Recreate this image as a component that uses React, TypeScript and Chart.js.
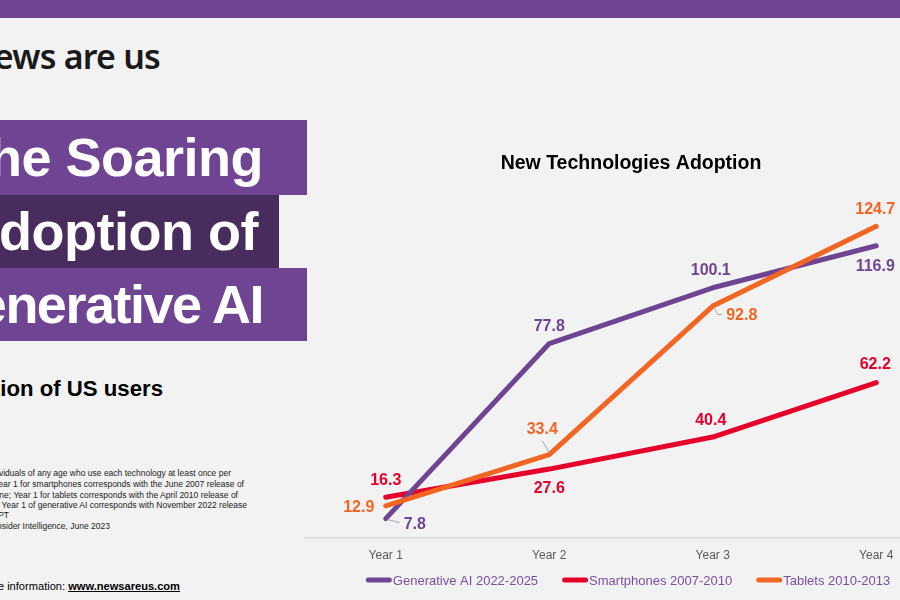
import React, { useEffect, useRef } from "react";
import { Chart, registerables } from "chart.js";

Chart.register(...registerables);

// ---------- data ----------
const categories = ["Year 1", "Year 2", "Year 3", "Year 4"];
const seriesNames = ["Generative AI 2022-2025", "Smartphones 2007-2010", "Tablets 2010-2013"];
const generativeAI = [7.8, 77.8, 100.1, 116.9];
const smartphones = [16.3, 27.6, 40.4, 62.2];
const tablets = [12.9, 33.4, 92.8, 124.7];
const yMin = 0;
const yMax = 140;
const chartTitle = "New Technologies Adoption";

// ---------- styles ----------
const PURPLE = "#6f4593";
const DARK_PURPLE = "#472c5d";
const RED = "#e4002b";
const ORANGE = "#f26522";
const LEGEND_TEXT = "#7a4fa0";
const FONT = '"Liberation Sans", Arial, Helvetica, sans-serif';

// label placement per series / point: [dx, dy, leader]
const labelPlacement: Array<Array<[number, number, string | null]>> = [
  [[29, 5, "left"], [0, -18, null], [-2, -18, null], [-1, 20, null]],
  [[0, -18, null], [0, 18.5, null], [-2, -17.5, null], [-1, -19, null]],
  [[-27, 1, null], [-7, -26, "below"], [29, 8.5, "elbow"], [-1, -18, null]],
];

const valueLabels = {
  id: "valueLabels",
  afterDatasetsDraw(chart: any) {
    const ctx = chart.ctx;
    ctx.save();
    ctx.font = `bold 16px ${FONT}`;
    ctx.textAlign = "center";
    ctx.textBaseline = "middle";
    chart.data.datasets.forEach((ds: any, di: number) => {
      const meta = chart.getDatasetMeta(di);
      meta.data.forEach((pt: any, i: number) => {
        const [dx, dy, leader] = labelPlacement[di][i];
        const lx = pt.x + dx;
        const ly = pt.y + dy;
        const text = Number(ds.data[i]).toFixed(1);
        const w = ctx.measureText(text).width;
        if (leader) {
          ctx.strokeStyle = "#a6a6a6";
          ctx.lineWidth = 1;
          ctx.beginPath();
          if (leader === "left") {
            ctx.moveTo(pt.x + 2, pt.y + 1);
            ctx.lineTo(lx - w / 2 - 4, ly - 1);
          } else if (leader === "below") {
            ctx.moveTo(lx, ly + 12);
            ctx.lineTo(pt.x, pt.y - 2);
          } else if (leader === "elbow") {
            ctx.moveTo(pt.x + 1, pt.y + 1);
            ctx.lineTo(pt.x + 5, ly);
            ctx.lineTo(lx - w / 2 - 4, ly);
          }
          ctx.stroke();
        }
        ctx.fillStyle = ds.borderColor;
        ctx.fillText(text, lx, ly + 1);
      });
    });
    ctx.restore();
  },
};

const lineLegend = {
  id: "lineLegend",
  afterDraw(chart: any) {
    const ctx = chart.ctx;
    ctx.save();
    ctx.font = `13px ${FONT}`;
    const marker = 26;
    const gapText = 1;
    const gapItem = 24;
    const items = chart.data.datasets.map((ds: any) => ({
      text: ds.label,
      color: ds.borderColor,
      w: marker + gapText + ctx.measureText(ds.label).width,
    }));
    const total = items.reduce((s: number, it: any) => s + it.w, 0) + gapItem * (items.length - 1);
    let x = (chart.width - total) / 2 - 3;
    const y = chart.height - 20;
    items.forEach((it: any) => {
      ctx.strokeStyle = it.color;
      ctx.lineWidth = 5;
      ctx.lineCap = "round";
      ctx.beginPath();
      ctx.moveTo(x + 2.5, y);
      ctx.lineTo(x + marker - 2.5, y);
      ctx.stroke();
      ctx.fillStyle = LEGEND_TEXT;
      ctx.textAlign = "left";
      ctx.textBaseline = "middle";
      ctx.fillText(it.text, x + marker + gapText, y + 1);
      x += it.w + gapItem;
    });
    ctx.restore();
  },
};

function AdoptionChart() {
  const ref = useRef<HTMLCanvasElement | null>(null);
  useEffect(() => {
    if (!ref.current) return;
    const colors = [PURPLE, RED, ORANGE];
    const values = [generativeAI, smartphones, tablets];
    const drawOrder = [1, 2, 0];
    const chart = new Chart(ref.current, {
      type: "line",
      data: {
        labels: categories,
        datasets: values.map((v, i) => ({
          label: seriesNames[i],
          data: v,
          borderColor: colors[i],
          backgroundColor: colors[i],
          borderWidth: 5,
          borderCapStyle: "round",
          borderJoinStyle: "round",
          pointRadius: 0,
          pointHoverRadius: 0,
          tension: 0,
          fill: false,
          order: drawOrder[i],
        })),
      },
      options: {
        responsive: false,
        animation: false,
        layout: { padding: { left: 0, right: 0, top: 0, bottom: 27.5 } },
        plugins: {
          legend: { display: false },
          tooltip: { enabled: false },
          title: {
            display: true,
            text: chartTitle,
            color: "#000000",
            font: { family: FONT, size: 19.5, weight: "bold" },
            padding: { top: 22.3, bottom: 12.3 },
          },
        },
        scales: {
          x: {
            offset: true,
            grid: { display: true, drawOnChartArea: false, drawTicks: false },
            border: { display: true, color: "#d9d9d9", width: 1.5 },
            ticks: { color: "#595959", font: { family: FONT, size: 12 }, padding: 10 },
          },
          y: { display: false, min: yMin, max: yMax },
        },
      },
      plugins: [valueLabels, lineLegend],
    } as any);
    return () => chart.destroy();
  }, []);
  return (
    <canvas
      ref={ref}
      width={654}
      height={470}
      style={{ position: "absolute", left: 304, top: 130, width: 654, height: 470 }}
    />
  );
}

const noteLines: Array<[string, number, number]> = [
  ["Note: Individuals of any age who use each technology at least once per", 231, 473],
  ["month; Year 1 for smartphones corresponds with the June 2007 release of", 244, 484],
  ["the iPhone; Year 1 for tablets corresponds with the April 2010 release of", 238, 495],
  ["the iPad; Year 1 of generative AI corresponds with November 2022 release", 247, 505.5],
  ["of ChatGPT", 9, 515.5],
  ["Source: Insider Intelligence, June 2023", 110, 526],
];

export default function App() {
  const titleText = (text: string, boxW: number, end: number, h: number, ls: number) => (
    <span
      style={{
        position: "absolute",
        right: boxW - end,
        top: 0,
        lineHeight: `${h}px`,
        fontSize: 54,
        fontWeight: 700,
        letterSpacing: ls,
        color: "#ffffff",
        whiteSpace: "nowrap",
        fontFamily: FONT,
      }}
    >
      {text}
    </span>
  );
  return (
    <div
      style={{
        position: "fixed",
        left: 0,
        top: 0,
        width: 900,
        height: 600,
        overflow: "hidden",
        background: "#f2f2f2",
        fontFamily: FONT,
      }}
    >
      <div style={{ position: "absolute", left: 0, top: 0, width: 900, height: 18, background: PURPLE }} />
      <div
        style={{
          position: "absolute",
          right: 900 - 160,
          top: 36,
          fontSize: 34,
          lineHeight: "40px",
          fontWeight: 600,
          letterSpacing: -0.8,
          color: "#1a1a1a",
          whiteSpace: "nowrap",
          fontFamily: '"Noto Sans", "DejaVu Sans", sans-serif',
        }}
      >
        news are us
      </div>
      <div style={{ position: "absolute", left: 0, top: 120, width: 307, height: 75, background: PURPLE, overflow: "hidden" }}>
        {titleText("The Soaring", 307, 263, 75, -0.5)}
      </div>
      <div style={{ position: "absolute", left: 0, top: 195, width: 279, height: 73, background: DARK_PURPLE, overflow: "hidden" }}>
        {titleText("Adoption of", 279, 258, 73, -0.5)}
      </div>
      <div style={{ position: "absolute", left: 0, top: 268, width: 307, height: 73, background: PURPLE, overflow: "hidden" }}>
        {titleText("Generative AI", 307, 263, 73, -1.5)}
      </div>
      <div
        style={{
          position: "absolute",
          right: 900 - 163,
          top: 376,
          fontSize: 22.2,
          lineHeight: "26px",
          fontWeight: 700,
          color: "#000",
          whiteSpace: "nowrap",
        }}
      >
        Proportion of US users
      </div>
      {noteLines.map(([t, end, cy], i) => (
        <div
          key={i}
          style={{
            position: "absolute",
            right: 900 - end,
            top: cy - 5.3,
            fontSize: 8.5,
            lineHeight: "10.6px",
            color: "#222",
            whiteSpace: "nowrap",
          }}
        >
          {t}
        </div>
      ))}
      <div
        style={{
          position: "absolute",
          right: 900 - 180,
          top: 578,
          fontSize: 11.1,
          lineHeight: "16px",
          color: "#000",
          whiteSpace: "nowrap",
        }}
      >
        For more information: <b style={{ textDecoration: "underline" }}>www.newsareus.com</b>
      </div>
      <AdoptionChart />
    </div>
  );
}
